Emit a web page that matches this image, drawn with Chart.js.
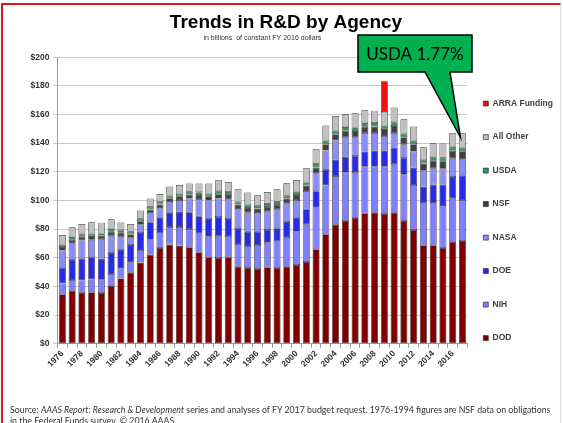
<!DOCTYPE html>
<html>
<head>
<meta charset="utf-8">
<title>Trends in R&amp;D by Agency</title>
<script src="https://cdn.jsdelivr.net/npm/chart.js@4.4.1/dist/chart.umd.min.js"></script>
<style>
  html, body { margin: 0; padding: 0; background: #fff; }
  #wrap { position: relative; width: 563px; height: 423px; overflow: hidden; }
  #wrap canvas { position: absolute; left: 0; top: 0; }
  #frame { position: absolute; left: 1px; top: 3px; right: 2px; bottom: -10px;
           border-top: 2px solid #e0141e; border-left: 2px solid #e0141e; border-right: 1px solid #ddd; }
  #source { position: absolute; left: 10px; top: 404px; font: 8.8px Lato, sans-serif; line-height: 11px;
            color: #333; white-space: nowrap; }
</style>
</head>
<body>
<div id="wrap">
  <div id="frame"></div>
  <canvas id="rdChart" width="563" height="423"></canvas>
  <div id="source">Source: <i>AAAS Report: Research &amp; Development</i> series and analyses of FY 2017 budget request. 1976-1994 figures are NSF data on obligations<br>in the Federal Funds survey. &copy; 2016 AAAS</div>
</div>
<script>
// years on the x axis
const years = ['1976', '1977', '1978', '1979', '1980', '1981', '1982', '1983', '1984', '1985',
               '1986', '1987', '1988', '1989', '1990', '1991', '1992', '1993', '1994', '1995',
               '1996', '1997', '1998', '1999', '2000', '2001', '2002', '2003', '2004', '2005',
               '2006', '2007', '2008', '2009', '2010', '2011', '2012', '2013', '2014', '2015',
               '2016', '2017'];

// billions of constant FY 2016 dollars
const dod = [34.5, 37.0, 35.4, 35.9, 35.4, 40.5, 45.6, 49.6, 56.6, 62.2,
             66.8, 69.2, 68.5, 67.3, 63.8, 60.3, 59.8, 60.3, 53.8, 52.9,
             52.2, 53.3, 52.9, 53.8, 55.0, 57.0, 65.9, 76.4, 83.1, 85.7,
             87.8, 91.0, 91.5, 90.6, 91.5, 85.7, 79.4, 68.7, 68.7, 66.8,
             71.2, 71.7];
const nih = [7.5, 7.5, 8.7, 9.0, 9.3, 8.2, 7.3, 7.2, 8.8, 10.4,
             10.3, 12.3, 13.0, 12.8, 13.3, 14.4, 15.2, 14.9, 15.8, 15.3,
             16.7, 17.2, 18.6, 20.7, 23.2, 26.4, 29.3, 34.0, 34.0, 33.7,
             32.1, 32.6, 32.1, 33.0, 33.8, 32.3, 31.4, 29.3, 29.6, 29.4,
             30.3, 28.6];
const doe = [11.0, 13.9, 15.2, 15.4, 14.7, 14.6, 12.5, 12.1, 11.9, 12.1,
             10.9, 10.0, 10.7, 11.6, 11.8, 12.4, 13.5, 11.9, 10.5, 10.0,
             9.3, 8.9, 9.1, 10.5, 9.8, 10.4, 11.2, 10.9, 11.4, 11.2,
             11.2, 10.5, 11.2, 11.2, 11.6, 11.7, 12.2, 11.7, 12.8, 14.7,
             14.9, 17.0];
const nasa = [12.0, 11.7, 12.8, 12.3, 13.5, 12.6, 9.8, 5.1, 5.8, 6.6,
              6.8, 7.5, 8.1, 9.6, 12.1, 12.8, 12.8, 13.7, 14.0, 13.5,
              13.1, 13.0, 13.2, 13.0, 12.3, 12.8, 12.6, 13.5, 13.3, 13.5,
              13.0, 12.9, 12.2, 10.2, 10.1, 9.5, 11.1, 11.1, 11.4, 11.3,
              13.1, 11.5];
const nsf = [2.5, 2.5, 2.5, 2.5, 2.4, 2.3, 2.3, 2.3, 2.4, 2.4,
             2.4, 2.6, 2.6, 2.8, 2.8, 3.0, 3.0, 3.0, 3.0, 3.0,
             3.0, 3.1, 3.1, 3.3, 3.5, 3.8, 4.0, 4.5, 4.5, 4.5,
             4.4, 4.5, 4.6, 4.8, 5.0, 5.0, 5.2, 5.0, 5.2, 5.2,
             5.3, 5.5];
const usda = [1.8, 1.8, 1.8, 1.8, 1.7, 1.7, 1.7, 1.8, 1.8, 1.8,
              1.8, 1.9, 1.9, 2.0, 2.0, 2.0, 2.1, 2.1, 2.1, 2.0,
              2.0, 2.0, 2.0, 2.0, 2.2, 2.2, 2.4, 2.6, 2.5, 2.6,
              2.5, 2.5, 2.5, 2.5, 2.6, 2.5, 2.5, 2.3, 2.5, 2.4,
              2.6, 2.6];
const allOther = [6.6, 6.9, 7.2, 7.8, 7.5, 6.9, 5.4, 5.5, 5.7, 5.8,
                  5.5, 6.2, 6.0, 5.7, 6.0, 6.9, 7.7, 7.0, 8.6, 8.8,
                  7.3, 8.4, 8.9, 8.7, 8.3, 9.9, 10.3, 10.4, 10.2, 9.0,
                  9.9, 8.9, 8.6, 9.5, 10.2, 10.0, 9.8, 9.0, 9.7, 9.9,
                  9.5, 10.0];
// ARRA only in 2009
const arra = [null, null, null, null, null, null, null, null, null, null,
              null, null, null, null, null, null, null, null, null, null,
              null, null, null, null, null, null, null, null, null, null,
              null, null, null, 21.4, null, null, null, null, null, null,
              null, null];

const yTicks = ['$0', '$20', '$40', '$60', '$80', '$100', '$120', '$140', '$160', '$180', '$200'];

Chart.defaults.font.family = "'Liberation Sans', Arial, sans-serif";

function bars(label, data, color) {
    return {
        label: label,
        data: data,
        backgroundColor: color,
        borderColor: '#333',
        borderWidth: 0.7,
        borderSkipped: false,
        categoryPercentage: 1,
        barPercentage: 0.72
    };
}

// green callout pointing at the last bar
const calloutPlugin = {
    id: 'callout',
    afterDraw: function (chart) {
        const c = chart.ctx;
        const last = years.length - 1;
        let top = 0;
        chart.data.datasets.forEach(function (ds) { top += ds.data[last] || 0; });
        const tipX = chart.scales.x.getPixelForValue(last) - 2;
        const tipY = chart.scales.y.getPixelForValue(top) + 4;
        const bx = 358, by = 35, bw = 114, bh = 37;
        c.save();
        c.beginPath();
        c.moveTo(bx, by);
        c.lineTo(bx + bw, by);
        c.lineTo(bx + bw, by + bh);
        c.lineTo(450, by + bh);
        c.lineTo(tipX, tipY);
        c.lineTo(425, by + bh);
        c.lineTo(bx, by + bh);
        c.closePath();
        c.fillStyle = '#00b050';
        c.fill();
        c.lineWidth = 1.5;
        c.strokeStyle = '#000';
        c.stroke();
        c.fillStyle = '#000';
        c.font = '17px Lato, sans-serif';
        c.textAlign = 'center';
        c.textBaseline = 'middle';
        c.fillText('USDA 1.77%', bx + bw / 2, by + bh / 2 + 1);
        c.restore();
    }
};

// move the legend column a little
const legendShift = {
    id: 'legendShift',
    afterLayout: function (chart) {
        const lg = chart.legend;
        lg.left -= 9; lg.right -= 9;
        lg.top += 34; lg.bottom += 34;
    }
};

const ctx = document.getElementById('rdChart').getContext('2d');
const rdChart = new Chart(ctx, {
    type: 'bar',
    data: {
        labels: years,
        datasets: [
            bars('DOD', dod, '#800000'),
            bars('NIH', nih, '#8080ff'),
            bars('DOE', doe, '#2a2ae6'),
            bars('NASA', nasa, '#8c8cf5'),
            bars('NSF', nsf, '#404040'),
            bars('USDA', usda, '#2e9a58'),
            bars('All Other', allOther, '#c0c0c0'),
            bars('ARRA Funding', arra, '#ee1111')
        ]
    },
    options: {
        responsive: false,
        animation: false,
        events: [],
        layout: { padding: { left: 0, right: -9, top: 0, bottom: 49.3 } },
        scales: {
            x: {
                stacked: true,
                afterFit: function (scale) { scale.height = 30; },
                grid: { display: true, drawOnChartArea: false, tickLength: 4, color: '#999' },
                border: { color: '#999' },
                ticks: {
                    autoSkip: false, minRotation: 45, maxRotation: 45, padding: 1,
                    color: '#333', font: { size: 8.5, weight: 'bold' },
                    callback: function (v, i) { return i % 2 === 0 ? years[i] : ''; }
                }
            },
            y: {
                stacked: true,
                min: 0, max: 200,
                afterFit: function (scale) { scale.width = 57.5; },
                grid: { color: '#c8c8c8', tickLength: 4 },
                border: { color: '#999' },
                ticks: {
                    stepSize: 20, padding: 4,
                    color: '#333', font: { size: 8.5, weight: 'bold' },
                    callback: function (v) { return yTicks[v / 20]; }
                }
            }
        },
        plugins: {
            title: {
                display: true, text: 'Trends in R&D by Agency', color: '#000',
                font: { size: 19, weight: 'bold' }, padding: { top: 11, bottom: 0 }
            },
            subtitle: {
                display: true, fullSize: false, text: 'in billions  of constant FY 2016 dollars', color: '#333',
                font: { size: 7 }, padding: { top: 0, bottom: 15 }
            },
            legend: {
                position: 'right',
                reverse: true,
                labels: {
                    boxWidth: 5, boxHeight: 5, padding: 25, color: '#404040',
                    font: { size: 8.5, weight: 'bold' }
                }
            },
            tooltip: { enabled: false }
        }
    },
    plugins: [calloutPlugin, legendShift]
});
</script>
</body>
</html>
